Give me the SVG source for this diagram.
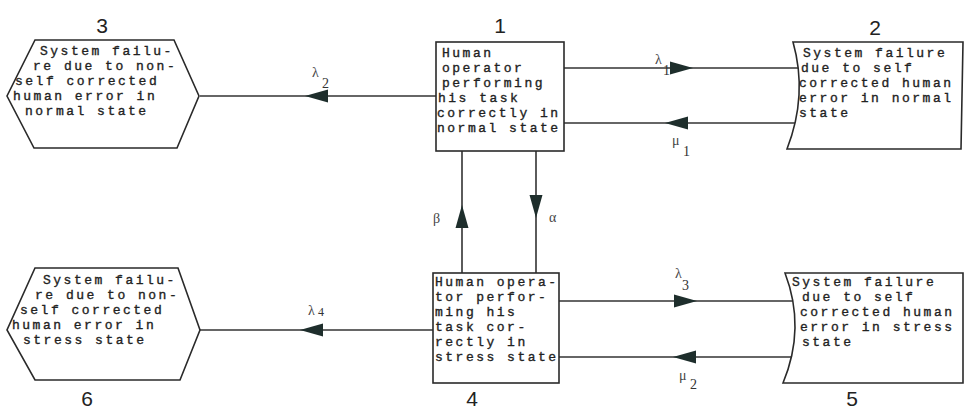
<svg xmlns="http://www.w3.org/2000/svg" width="965" height="410" viewBox="0 0 965 410">
<style>
.bg{fill:#ffffff}
.shape{fill:#ffffff;stroke:#2a2a2a;stroke-width:1.6}
.line{stroke:#333333;stroke-width:1.6;fill:none}
.ah{fill:#1e2e2c}
.tw{font-family:"Liberation Mono","DejaVu Sans Mono",monospace;font-size:13px;letter-spacing:2.5px;fill:#222222;stroke:#222222;stroke-width:0.35}
.num{font-family:"Liberation Sans",Arial,sans-serif;font-size:21px;fill:#222222;text-anchor:middle}
.gr{font-family:"Liberation Serif","Times New Roman",serif;font-size:14px;fill:#444444}
.sub{font-family:"Liberation Serif","Times New Roman",serif;font-size:14px;fill:#333333}
</style>
<defs>
<path id="ah" d="M0,0 L-23,-6.5 L-23,6.5 Z"/>
</defs>
<rect class="bg" x="0" y="0" width="965" height="410"/>

<g id="connectors">
<line class="line" x1="436" y1="96" x2="200" y2="96"/>
<use href="#ah" class="ah" transform="translate(305,96) rotate(180)"/>
<text class="gr" x="312" y="77">λ</text><text class="sub" x="322" y="88">2</text>

<line class="line" x1="564" y1="68" x2="799" y2="68"/>
<use href="#ah" class="ah" transform="translate(693,68)"/>
<text class="gr" x="655" y="64">λ</text><text class="sub" x="663" y="75">1</text>

<line class="line" x1="800" y1="123" x2="564" y2="123"/>
<use href="#ah" class="ah" transform="translate(665,123) rotate(180)"/>
<text class="gr" x="672" y="145">μ</text><text class="sub" x="683" y="156">1</text>

<line class="line" x1="536" y1="151" x2="536" y2="273"/>
<use href="#ah" class="ah" transform="translate(536,218) rotate(90)"/>
<text class="gr" x="549" y="222">α</text>

<line class="line" x1="462" y1="273" x2="462" y2="151"/>
<use href="#ah" class="ah" transform="translate(462,205) rotate(-90)"/>
<text class="gr" x="433" y="223">β</text>

<line class="line" x1="559" y1="301" x2="794" y2="301"/>
<use href="#ah" class="ah" transform="translate(697,301)"/>
<text class="gr" x="675" y="278">λ</text><text class="sub" x="682" y="290">3</text>

<line class="line" x1="795" y1="357" x2="559" y2="357"/>
<use href="#ah" class="ah" transform="translate(673,357) rotate(180)"/>
<text class="gr" x="679" y="380">μ</text><text class="sub" x="690" y="389">2</text>

<line class="line" x1="433" y1="330" x2="200" y2="330"/>
<use href="#ah" class="ah" transform="translate(300,330) rotate(180)"/>
<text class="gr" x="308" y="315">λ</text><text class="sub" x="318" y="316" style="font-size:12px">4</text>
</g>

<g id="node1">
<rect class="shape" x="436" y="42" width="128" height="109"/>
<text class="tw" x="442" y="57">Human</text>
<text class="tw" x="442" y="72">operator</text>
<text class="tw" x="442" y="87">performing</text>
<text class="tw" x="438" y="102">his task</text>
<text class="tw" x="437" y="117">correctly in</text>
<text class="tw" x="437" y="132">normal state</text>
<text class="num" x="500" y="33">1</text>
</g>

<g id="node2">
<path class="shape" d="M793,42 L963,42 L961,149 L787,149 Q808,95 793,42 Z"/>
<text class="tw" x="803" y="57">System failure</text>
<text class="tw" x="801" y="72">due to self</text>
<text class="tw" x="799" y="87">corrected human</text>
<text class="tw" x="799" y="102">error in normal</text>
<text class="tw" x="799" y="117">state</text>
<text class="num" x="875" y="35">2</text>
</g>

<g id="node3">
<polygon class="shape" points="35,40 174,40 199,96 177,148 34,148 7,96"/>
<text class="tw" x="40" y="55">System failu-</text>
<text class="tw" x="33" y="70">re due to non-</text>
<text class="tw" x="15" y="85">self corrected</text>
<text class="tw" x="13" y="100">human error in</text>
<text class="tw" x="25" y="115">normal state</text>
<text class="num" x="102" y="33">3</text>
</g>

<g id="node4">
<rect class="shape" x="433" y="273" width="126" height="110"/>
<text class="tw" x="435" y="286">Human opera-</text>
<text class="tw" x="435" y="301">tor perfor-</text>
<text class="tw" x="435" y="316">ming his</text>
<text class="tw" x="435" y="331">task  cor-</text>
<text class="tw" x="435" y="346">rectly in</text>
<text class="tw" x="435" y="361">stress state</text>
<text class="num" x="472" y="406">4</text>
</g>

<g id="node5">
<path class="shape" d="M785,273 L963,273 L963,383 L783,383 Q806,328 785,273 Z"/>
<text class="tw" x="792" y="286">System failure</text>
<text class="tw" x="802" y="301">due to self</text>
<text class="tw" x="800" y="316">corrected human</text>
<text class="tw" x="800" y="331">error in stress</text>
<text class="tw" x="802" y="346">state</text>
<text class="num" x="852" y="406">5</text>
</g>

<g id="node6">
<polygon class="shape" points="35,268 178,268 200,330 180,380 35,380 7,330"/>
<text class="tw" x="43" y="284">System failu-</text>
<text class="tw" x="35" y="299">re due to non-</text>
<text class="tw" x="20" y="314">self corrected</text>
<text class="tw" x="12" y="329">human error in</text>
<text class="tw" x="23" y="344">stress state</text>
<text class="num" x="87" y="406">6</text>
</g>
</svg>
